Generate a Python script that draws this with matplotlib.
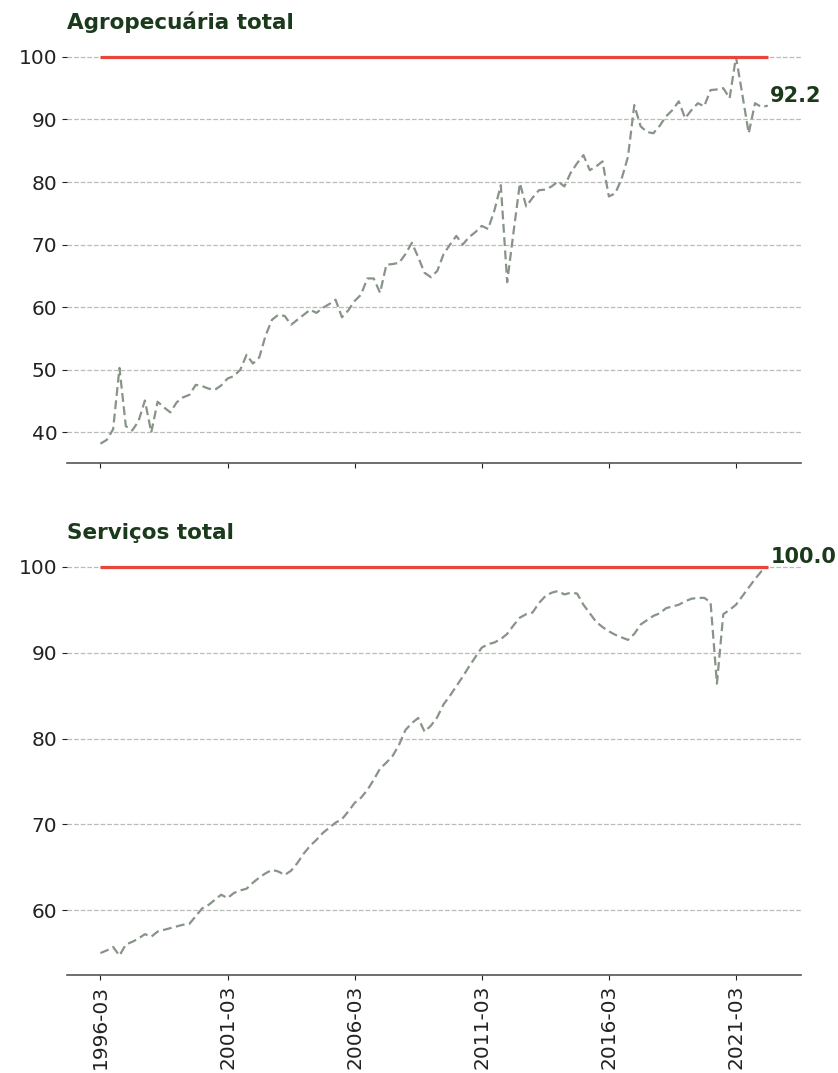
import numpy as np
import matplotlib
matplotlib.use("Agg")
import matplotlib.pyplot as plt

# quarterly index, 1996-03 .. 2022-06
years = range(1996, 2023)
dates = [f"{y}-{m:02d}" for y in years for m in (3, 6, 9, 12)][:106]

agro = [38.2, 38.8, 40.5, 50.3, 41.0, 40.3, 41.8, 45.1, 40.0, 44.9,
        44.0, 43.2, 44.8, 45.6, 46.0, 47.6, 47.4, 47.0, 46.8, 47.5,
        48.6, 49.0, 50.0, 52.4, 51.0, 52.0, 55.5, 58.0, 58.8, 58.6,
        57.2, 58.0, 58.8, 59.6, 59.1, 59.9, 60.5, 61.2, 58.4, 59.5,
        61.0, 62.0, 64.6, 64.6, 62.3, 66.8, 66.9, 67.1, 68.5, 70.3,
        68.0, 65.5, 64.8, 65.8, 68.5, 70.0, 71.4, 70.0, 71.2, 72.0,
        73.0, 72.5, 75.5, 79.5, 64.0, 72.0, 79.8, 76.1, 77.5, 78.7,
        78.8, 79.3, 80.1, 79.3, 81.5, 83.0, 84.3, 81.9, 82.5, 83.3,
        77.7, 78.2, 80.5, 84.0, 92.3, 88.9, 88.0, 87.8, 89.0, 90.5,
        91.5, 92.9, 90.2, 91.5, 92.6, 92.1, 94.7, 94.8, 95.0, 93.4,
        100.0, 94.0, 87.8, 92.6, 92.0, 92.2]

servicos = [55.0, 55.3, 55.7, 54.7, 56.0, 56.3, 56.7, 57.2, 56.9, 57.5,
            57.7, 57.9, 58.1, 58.3, 58.4, 59.3, 60.2, 60.6, 61.2, 61.8,
            61.4, 62.0, 62.3, 62.5, 63.2, 63.8, 64.3, 64.7, 64.5, 64.1,
            64.6, 65.5, 66.6, 67.5, 68.2, 69.0, 69.6, 70.2, 70.6, 71.5,
            72.5, 73.1, 74.0, 75.2, 76.5, 77.2, 78.0, 79.3, 81.0, 81.8,
            82.4, 80.8, 81.5, 82.5, 84.0, 85.0, 86.1, 87.2, 88.4, 89.5,
            90.6, 91.0, 91.2, 91.6, 92.2, 93.2, 94.1, 94.5, 94.7, 95.8,
            96.6, 97.0, 97.2, 96.8, 97.0, 96.9, 95.6, 94.6, 93.6, 93.0,
            92.5, 92.1, 91.8, 91.5, 92.2, 93.3, 93.8, 94.3, 94.6, 95.2,
            95.4, 95.6, 96.0, 96.3, 96.4, 96.4, 95.9, 86.4, 94.5, 95.0,
            95.6, 96.6, 97.6, 98.6, 99.5, 100.0]

titulos = ["Agropecuária total", "Serviços total"]
series = [agro, servicos]

verde = "#1b3a1b"
linha = "#879487"
vermelho = "#e8463a"

fig = plt.figure(figsize=(8.38, 10.73), dpi=100)
ax1 = fig.add_axes([0.080, 0.5685, 0.876, 0.3965])
ax2 = fig.add_axes([0.080, 0.0913, 0.876, 0.3984], sharex=ax1)

x = np.arange(len(dates))
for ax, titulo, y in zip([ax1, ax2], titulos, series):
    ax.plot(x, y, linestyle="--", color=linha, linewidth=1.6,
            dashes=(4, 2))
    ax.hlines(100, x[0], x[-1], color=vermelho, linewidth=2.3, zorder=3)
    ax.set_title(titulo, loc="left", fontsize=15.5, fontweight="bold",
                 color=verde, pad=6)
    ax.text(x[-1] + 0.4, y[-1], f"{y[-1]:.1f}", fontsize=15,
            fontweight="bold", color=verde, ha="left", va="bottom")
    ax.grid(axis="y", linestyle="--", color="#bbbbbb", linewidth=0.9)
    ax.set_axisbelow(True)
    for s in ["top", "right", "left"]:
        ax.spines[s].set_visible(False)
    ax.spines["bottom"].set_color("#555555")
    ax.spines["bottom"].set_linewidth(1.2)
    ax.tick_params(labelsize=14.5, colors="#222222")

ax1.set_yticks([40, 50, 60, 70, 80, 90, 100])
ax2.set_yticks([60, 70, 80, 90, 100])
ax2.set_xticks(x[::20], dates[::20], rotation=90)
plt.setp(ax1.get_xticklabels(), visible=False)

fig.savefig("out.png", dpi=100)
